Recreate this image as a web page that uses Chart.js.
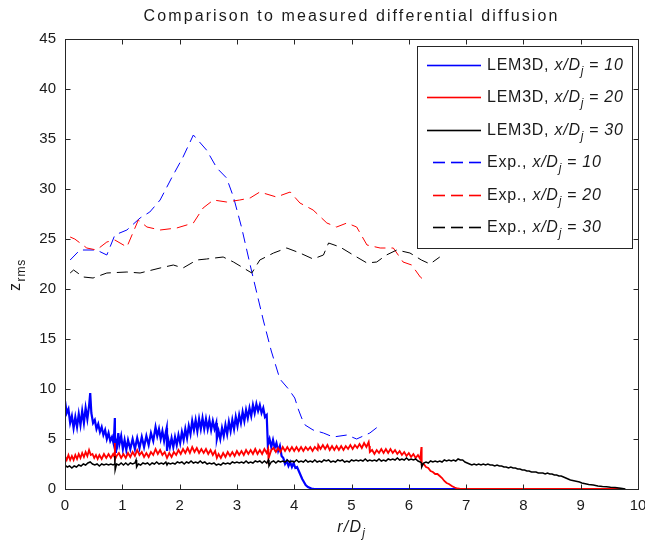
<!DOCTYPE html>
<html>
<head>
<meta charset="utf-8">
<script src="https://cdn.jsdelivr.net/npm/chart.js@4/dist/chart.umd.min.js"></script>
<style>
  html, body { margin: 0; padding: 0; background: #fff; }
  #wrap { width: 645px; height: 543px; }
</style>
</head>
<body>
<div id="wrap"><canvas id="c" width="645" height="543"></canvas></div>
<script>
// r/D_j versus z_rms, LEM3D profiles (noisy) and experimental profiles
const lem10 = [[0,8.8],[0.03,7.6],[0.06,8.0],[0.09,6.6],[0.12,7.3],[0.15,6.1],[0.18,7.2],[0.21,6.2],[0.24,7.5],[0.27,6.4],
  [0.30,7.8],[0.33,6.6],[0.36,8.1],[0.39,7.0],[0.42,8.3],[0.44,9.6],[0.46,7.6],[0.49,6.6],[0.52,6.9],[0.55,6.0],
  [0.58,6.5],[0.61,5.7],[0.64,6.2],[0.67,5.4],[0.70,5.9],[0.73,5.0],[0.76,5.6],[0.79,4.8],[0.82,5.2],[0.85,4.5],
  [0.87,7.1],[0.875,3.7],[0.89,4.8],[0.91,4.4],[0.93,5.6],[0.95,4.5],[0.98,5.3],[1.01,4.0],[1.04,4.9],[1.07,3.9],
  [1.10,4.9],[1.14,4.0],[1.18,5.0],[1.22,4.0],[1.26,5.1],[1.30,4.1],[1.34,5.2],[1.38,4.2],[1.42,5.3],[1.46,4.4],
  [1.50,5.6],[1.54,4.8],[1.58,6.2],[1.61,5.3],[1.64,6.0],[1.67,5.0],[1.70,5.8],[1.73,4.8],[1.76,5.7],[1.775,6.1],
  [1.78,3.8],[1.80,5.0],[1.83,4.2],[1.86,5.1],[1.89,4.2],[1.92,5.2],[1.95,4.4],[1.98,5.4],[2.01,4.6],[2.04,5.7],
  [2.07,4.9],[2.10,6.0],[2.13,5.1],[2.16,6.3],[2.19,5.5],[2.22,6.8],[2.25,5.9],[2.28,6.9],[2.31,5.8],[2.34,7.0],
  [2.37,6.0],[2.40,7.1],[2.43,6.0],[2.46,7.0],[2.49,6.0],[2.52,6.9],[2.55,5.9],[2.58,6.8],[2.61,6.0],[2.64,6.6],
  [2.65,5.0],[2.68,5.8],[2.71,5.0],[2.74,6.1],[2.77,5.3],[2.80,6.4],[2.83,5.5],[2.86,6.7],[2.89,5.8],[2.92,6.9],
  [2.95,6.0],[2.98,7.2],[3.01,6.3],[3.04,7.4],[3.07,6.6],[3.10,7.7],[3.13,6.8],[3.16,7.9],[3.19,7.1],[3.22,8.1],
  [3.25,7.3],[3.28,8.4],[3.31,7.6],[3.34,8.5],[3.37,7.8],[3.40,8.4],[3.43,7.6],[3.46,8.1],[3.49,7.2],[3.52,7.4],
  [3.54,4.4],[3.57,5.0],[3.60,4.2],[3.63,4.9],[3.66,4.1],[3.69,4.6],[3.72,3.8],[3.75,4.3],[3.78,3.3],[3.81,3.1],
  [3.84,2.5],[3.87,2.8],[3.90,2.3],[3.93,2.7],[3.96,2.2],[3.99,2.6],[4.02,2.1],[4.05,2.2],[4.08,1.8],[4.11,1.4],
  [4.14,1.0],[4.17,0.7],[4.20,0.4],[4.24,0.2],[4.30,0.05],[4.35,0],[9.75,0]];

const lem20 = [[0,3.3],[0.03,2.9],[0.06,3.4],[0.09,2.9],[0.12,3.3],[0.15,2.9],[0.18,3.4],[0.21,3.0],[0.24,3.5],[0.27,3.1],
  [0.30,3.6],[0.33,3.2],[0.36,3.7],[0.39,3.3],[0.42,3.9],[0.45,3.4],[0.48,3.5],[0.51,3.1],[0.54,3.4],[0.57,3.0],
  [0.60,3.4],[0.64,3.0],[0.68,3.5],[0.72,3.1],[0.76,3.5],[0.80,3.1],[0.84,3.5],[0.865,3.2],[0.87,4.6],[0.875,3.0],
  [0.90,3.3],[0.94,3.6],[0.98,3.1],[1.02,3.5],[1.06,3.1],[1.10,3.6],[1.14,3.2],[1.18,3.7],[1.22,3.3],[1.26,3.9],
  [1.30,3.4],[1.34,3.7],[1.38,3.2],[1.42,3.6],[1.46,3.2],[1.50,3.7],[1.54,3.4],[1.58,4.0],[1.62,3.5],[1.66,3.9],
  [1.70,3.4],[1.74,3.7],[1.78,3.1],[1.82,3.6],[1.86,3.2],[1.90,3.7],[1.94,3.4],[1.98,3.9],[2.02,3.5],[2.06,4.0],
  [2.10,3.6],[2.14,4.1],[2.18,3.6],[2.22,4.2],[2.26,3.7],[2.30,4.1],[2.34,3.6],[2.38,4.0],[2.42,3.6],[2.46,4.0],
  [2.50,3.5],[2.54,3.9],[2.58,3.4],[2.62,3.8],[2.65,3.1],[2.68,3.5],[2.72,3.1],[2.76,3.6],[2.80,3.2],[2.84,3.7],
  [2.88,3.3],[2.92,3.7],[2.96,3.3],[3.00,3.8],[3.04,3.4],[3.08,3.8],[3.12,3.4],[3.16,3.9],[3.20,3.5],[3.24,3.9],
  [3.28,3.5],[3.32,4.0],[3.36,3.5],[3.40,3.9],[3.44,3.5],[3.48,4.0],[3.52,3.6],[3.545,4.0],[3.55,3.0],[3.60,3.9],
  [3.64,4.1],[3.68,3.7],[3.72,4.1],[3.76,3.7],[3.80,4.2],[3.84,3.8],[3.88,4.2],[3.92,3.8],[3.96,4.2],[4.00,3.8],
  [4.04,4.2],[4.08,3.8],[4.12,4.2],[4.16,3.8],[4.20,4.2],[4.24,3.9],[4.28,4.2],[4.32,3.8],[4.36,4.2],[4.41,3.9],
  [4.42,4.4],[4.46,4.0],[4.50,4.4],[4.54,4.0],[4.58,4.4],[4.62,3.9],[4.66,4.3],[4.70,3.9],[4.74,4.3],[4.78,3.9],
  [4.82,4.3],[4.86,3.9],[4.90,4.3],[4.94,4.0],[4.98,4.4],[5.02,4.0],[5.06,4.4],[5.10,4.1],[5.14,4.5],[5.18,4.1],
  [5.22,4.6],[5.26,4.2],[5.30,4.7],[5.31,4.3],[5.32,3.7],[5.36,3.9],[5.40,3.5],[5.44,3.9],[5.48,3.6],[5.52,4.0],
  [5.56,3.6],[5.60,4.0],[5.64,3.6],[5.68,4.0],[5.72,3.6],[5.76,3.9],[5.80,3.5],[5.84,3.8],[5.88,3.4],[5.92,3.7],
  [5.96,3.3],[6.00,3.6],[6.04,3.2],[6.08,3.5],[6.12,3.1],[6.16,3.4],[6.20,3.0],[6.22,4.2],[6.225,2.5],[6.26,2.5],
  [6.30,2.2],[6.34,2.1],[6.38,1.8],[6.42,1.7],[6.46,1.5],[6.50,1.5],[6.54,1.3],[6.58,1.1],[6.62,0.8],[6.66,0.6],
  [6.70,0.5],[6.75,0.3],[6.80,0.15],[6.85,0.05],[6.90,0],[9.75,0]];

const lem30 = [[0,2.4],[0.04,2.2],[0.08,2.3],[0.12,2.1],[0.16,2.3],[0.20,2.2],[0.24,2.4],[0.28,2.3],[0.32,2.5],[0.36,2.4],
  [0.40,2.6],[0.44,2.7],[0.48,2.5],[0.52,2.4],[0.56,2.5],[0.60,2.3],[0.64,2.5],[0.68,2.4],[0.72,2.5],[0.76,2.4],
  [0.80,2.5],[0.84,2.4],[0.865,2.5],[0.87,3.3],[0.875,1.9],[0.90,2.5],[0.94,2.4],[0.98,2.6],[1.02,2.4],[1.06,2.6],
  [1.10,2.4],[1.14,2.6],[1.18,2.5],[1.22,2.6],[1.24,2.9],[1.25,2.2],[1.28,2.5],[1.32,2.4],[1.36,2.6],[1.40,2.5],
  [1.44,2.6],[1.48,2.4],[1.52,2.6],[1.56,2.5],[1.60,2.7],[1.64,2.5],[1.68,2.6],[1.72,2.5],[1.76,2.7],[1.78,2.4],
  [1.80,2.6],[1.84,2.5],[1.88,2.6],[1.92,2.5],[1.96,2.7],[2.00,2.6],[2.04,2.7],[2.08,2.5],[2.12,2.7],[2.16,2.6],
  [2.20,2.8],[2.24,2.6],[2.28,2.7],[2.32,2.6],[2.36,2.8],[2.40,2.6],[2.44,2.7],[2.48,2.5],[2.52,2.6],[2.56,2.5],
  [2.60,2.6],[2.64,2.4],[2.68,2.5],[2.72,2.4],[2.76,2.6],[2.80,2.5],[2.84,2.6],[2.88,2.5],[2.92,2.7],[2.96,2.6],
  [3.00,2.7],[3.04,2.6],[3.08,2.7],[3.12,2.6],[3.16,2.8],[3.20,2.6],[3.24,2.7],[3.28,2.6],[3.32,2.8],[3.36,2.7],
  [3.40,2.8],[3.44,2.6],[3.48,2.8],[3.52,2.6],[3.55,2.9],[3.56,2.3],[3.60,2.7],[3.64,2.8],[3.68,2.6],[3.72,2.8],
  [3.76,2.7],[3.80,2.8],[3.84,2.7],[3.88,2.9],[3.92,2.7],[3.96,2.8],[4.00,2.7],[4.04,2.9],[4.08,2.7],[4.12,2.8],
  [4.16,2.7],[4.20,2.9],[4.24,2.7],[4.28,2.8],[4.32,2.7],[4.36,2.9],[4.40,2.7],[4.44,2.8],[4.48,2.7],[4.52,2.9],
  [4.56,2.8],[4.60,2.9],[4.64,2.7],[4.68,2.8],[4.72,2.7],[4.76,2.9],[4.80,2.8],[4.84,2.9],[4.88,2.7],[4.92,2.8],
  [4.96,2.7],[5.00,2.9],[5.04,2.8],[5.08,2.9],[5.12,2.8],[5.16,2.9],[5.20,2.8],[5.24,3.0],[5.28,2.8],[5.32,2.9],
  [5.36,2.8],[5.40,2.9],[5.44,2.8],[5.48,3.0],[5.52,2.8],[5.56,2.9],[5.60,2.8],[5.64,3.0],[5.68,2.9],[5.72,3.0],
  [5.76,2.9],[5.80,3.1],[5.84,2.9],[5.88,3.0],[5.92,2.9],[5.96,3.1],[6.00,2.9],[6.04,3.0],[6.08,2.9],[6.12,3.0],
  [6.16,2.8],[6.20,2.7],[6.22,2.6],[6.225,2.2],[6.26,2.6],[6.30,2.7],[6.34,2.6],[6.38,2.8],[6.42,2.7],[6.46,2.8],
  [6.50,2.7],[6.54,2.8],[6.58,2.7],[6.62,2.9],[6.66,2.8],[6.70,2.9],[6.74,2.8],[6.78,2.9],[6.82,2.8],[6.86,3.0],
  [6.90,2.9],[6.94,2.9],[6.98,2.7],[7.02,2.6],[7.06,2.5],[7.10,2.4],[7.14,2.5],[7.18,2.4],[7.22,2.5],[7.26,2.4],
  [7.30,2.5],[7.34,2.4],[7.38,2.5],[7.42,2.4],[7.46,2.4],[7.50,2.3],[7.54,2.4],[7.58,2.3],[7.62,2.3],[7.66,2.2],
  [7.70,2.2],[7.74,2.1],[7.78,2.2],[7.82,2.1],[7.86,2.1],[7.90,2.0],[7.94,2.0],[7.98,1.9],[8.02,1.9],[8.06,1.8],
  [8.10,1.8],[8.14,1.7],[8.18,1.7],[8.22,1.7],[8.26,1.6],[8.30,1.6],[8.34,1.6],[8.38,1.5],[8.42,1.6],[8.46,1.5],
  [8.50,1.5],[8.54,1.4],[8.58,1.4],[8.62,1.3],[8.66,1.3],[8.70,1.2],[8.74,1.1],[8.78,1.0],[8.82,0.9],[8.86,0.85],
  [8.90,0.8],[8.94,0.75],[8.98,0.7],[9.02,0.6],[9.06,0.55],[9.10,0.5],[9.14,0.45],[9.22,0.4],[9.30,0.3],[9.38,0.25],
  [9.45,0.22],[9.52,0.18],[9.60,0.15],[9.70,0.08],[9.78,0]];

const exp10 = [[0.09,22.9],[0.26,23.9],[0.55,23.9],[0.73,23.4],[0.87,25.4],[1.08,25.9],[1.31,27.1],[1.48,27.7],
  [1.66,28.9],[1.86,31.1],[2.06,33.2],[2.24,35.4],[2.47,33.9],[2.65,32.1],[2.82,31.1],[2.94,29.2],[3.08,26.2],
  [3.26,21.7],[3.46,16.9],[3.60,13.8],[3.75,11.0],[3.90,10.0],[4.01,9.1],[4.07,8.0],[4.13,7.1],[4.19,6.4],
  [4.33,5.9],[4.51,5.6],[4.68,5.2],[4.92,5.4],[5.09,5.0],[5.32,5.6],[5.50,6.4]];

const exp20 = [[0.09,25.2],[0.17,25.0],[0.38,24.1],[0.55,23.9],[0.73,24.7],[0.87,24.9],[1.08,24.2],[1.28,26.9],
  [1.43,26.2],[1.66,25.9],[1.95,26.1],[2.24,26.6],[2.41,28.1],[2.59,28.9],[2.82,28.7],[3.05,28.9],[3.23,29.1],
  [3.40,29.7],[3.69,29.2],[3.93,29.7],[4.10,28.6],[4.33,27.9],[4.57,26.6],[4.74,26.2],[4.92,26.6],[5.09,26.2],
  [5.27,24.4],[5.50,24.1],[5.73,24.1],[5.90,22.7],[6.05,22.4],[6.20,21.2],[6.31,20.7]];

const exp30 = [[0.09,21.6],[0.15,21.9],[0.32,21.2],[0.49,21.1],[0.73,21.6],[1.08,21.7],[1.31,21.6],[1.66,22.1],
  [1.89,22.4],[2.06,22.1],[2.30,22.9],[2.47,23.0],[2.76,23.2],[2.94,22.7],[3.26,21.6],[3.40,22.9],[3.64,23.6],
  [3.87,24.1],[4.10,23.6],[4.33,23.0],[4.51,23.4],[4.60,24.6],[4.80,24.2],[5.03,23.4],[5.27,22.6],[5.44,22.7],
  [5.61,23.4],[5.79,23.9],[6.02,23.6],[6.22,22.9],[6.37,22.5],[6.54,23.2]];

const seriesLabels = [
  ['LEM3D, ', '10'], ['LEM3D, ', '20'], ['LEM3D, ', '30'],
  ['Exp., ', '10'], ['Exp., ', '20'], ['Exp., ', '30']
];
const seriesColors = ['#0000ff', '#ff0000', '#000000', '#0000ff', '#ff0000', '#000000'];
const seriesWidths = [2.2, 1.8, 1.5, 1, 1, 1];
const seriesData = [lem10, lem20, lem30, exp10, exp20, exp30];
const xTicks = [0, 1, 2, 3, 4, 5, 6, 7, 8, 9, 10];
const yTicks = [0, 5, 10, 15, 20, 25, 30, 35, 40, 45];

const DASH = [11, 6];
const FONT = '"Liberation Sans", Arial, Helvetica, sans-serif';
const INK = '#1a1a1a';

const datasets = seriesData.map((pts, i) => ({
  label: seriesLabels[i].join(''),
  data: pts.map(p => ({ x: p[0], y: p[1] })),
  borderColor: seriesColors[i],
  borderWidth: seriesWidths[i],
  borderDash: i >= 3 ? DASH : [],
  pointRadius: 0,
  tension: 0,
  fill: false,
  order: 6 - i   // later series drawn on top
}));

// Text helper: runs of text with optional italic / subscript
function setFont(ctx, r, size, spacing) {
  const s = r.sub ? Math.round(size * 0.72) : size;
  ctx.font = (r.it ? 'italic ' : '') + s + 'px ' + FONT;
  if ('letterSpacing' in ctx) ctx.letterSpacing = (r.sub ? spacing * 0.6 : spacing) + 'px';
}
function runsWidth(ctx, runs, size, spacing) {
  let w = 0;
  runs.forEach(r => { setFont(ctx, r, size, spacing); w += ctx.measureText(r.t).width; });
  return w;
}
function drawRuns(ctx, runs, x, y, size, spacing) {
  let cx = x;
  runs.forEach(r => {
    setFont(ctx, r, size, spacing);
    ctx.fillText(r.t, cx, y + (r.sub ? size * 0.32 : 0));
    cx += ctx.measureText(r.t).width;
  });
  if ('letterSpacing' in ctx) ctx.letterSpacing = '0px';
  return cx - x;
}

const decor = {
  id: 'decor',
  afterDraw(chart) {
    const ctx = chart.ctx;
    const a = chart.chartArea;
    const xs = chart.scales.x, ys = chart.scales.y;
    ctx.save();
    // axes box
    ctx.strokeStyle = '#262626';
    ctx.lineWidth = 1;
    ctx.setLineDash([]);
    const L = Math.round(a.left) + 0.5, R = Math.round(a.right) + 0.5;
    const T = Math.round(a.top) + 0.5, B = Math.round(a.bottom) + 0.5;
    ctx.strokeRect(L, T, R - L, B - T);
    // inward ticks on all four sides
    const tl = 5;
    ctx.beginPath();
    xTicks.forEach(v => {
      const px = Math.round(xs.getPixelForValue(v)) + 0.5;
      ctx.moveTo(px, B); ctx.lineTo(px, B - tl);
      ctx.moveTo(px, T); ctx.lineTo(px, T + tl);
    });
    yTicks.forEach(v => {
      const py = Math.round(ys.getPixelForValue(v)) + 0.5;
      ctx.moveTo(L, py); ctx.lineTo(L + tl, py);
      ctx.moveTo(R, py); ctx.lineTo(R - tl, py);
    });
    ctx.stroke();

    ctx.fillStyle = INK;
    ctx.textBaseline = 'alphabetic';
    ctx.textAlign = 'left';
    // title
    const titleRuns = [{ t: 'Comparison to measured differential diffusion' }];
    const tw = runsWidth(ctx, titleRuns, 16, 2.1);
    drawRuns(ctx, titleRuns, (a.left + a.right) / 2 - tw / 2, 21, 16, 2.1);
    // x label r/D_j
    const xl = [{ t: 'r/D', it: true }, { t: 'j', it: true, sub: true }];
    const xw = runsWidth(ctx, xl, 16, 1.2);
    drawRuns(ctx, xl, (a.left + a.right) / 2 - xw / 2, 532, 16, 1.2);
    // y label z_rms (rotated)
    ctx.save();
    ctx.translate(20, 291);
    ctx.rotate(-Math.PI / 2);
    drawRuns(ctx, [{ t: 'z' }, { t: 'rms', sub: true }], 0, 0, 16, 1.5);
    ctx.restore();

    // legend box
    const lx0 = 417.5, ly0 = 46.5, lw = 215, lh = 202;
    ctx.fillStyle = '#fff';
    ctx.fillRect(lx0, ly0, lw, lh);
    ctx.strokeStyle = '#262626';
    ctx.lineWidth = 1;
    ctx.strokeRect(lx0, ly0, lw, lh);
    // legend entries: line sample (solid, or three dashes) and label
    seriesLabels.forEach((lab, i) => {
      const cy = Math.round(65 + i * 32.4);
      ctx.fillStyle = seriesColors[i];
      if (i < 3) {
        ctx.fillRect(427, cy - 0.3, 54, 1.6);
      } else {
        [433, 451, 469].forEach(x0 => ctx.fillRect(x0, cy - 0.3, 12, 1.6));
      }
      ctx.fillStyle = INK;
      drawRuns(ctx, [
        { t: lab[0] }, { t: 'x/D', it: true }, { t: 'j', it: true, sub: true }, { t: ' = ' + lab[1], it: true }
      ], 487, cy + 5, 16, 0.75);
    });
    ctx.restore();
  }
};

new Chart(document.getElementById('c'), {
  type: 'line',
  data: { datasets },
  options: {
    responsive: false,
    animation: false,
    events: [],
    layout: { padding: { left: 0, right: 7, top: 39, bottom: 0 } },
    plugins: { legend: { display: false }, title: { display: false }, tooltip: { enabled: false } },
    scales: {
      x: {
        type: 'linear', min: 0, max: 10,
        grid: { display: false, drawTicks: false },
        border: { display: false },
        afterBuildTicks: s => { s.ticks = xTicks.map(v => ({ value: v })); },
        afterFit: s => { s.height = 54; s.paddingLeft = 0; s.paddingRight = 0; },
        ticks: { color: INK, padding: 8, maxRotation: 0, autoSkip: false, font: { family: FONT, size: 15 } }
      },
      y: {
        type: 'linear', min: 0, max: 45,
        grid: { display: false, drawTicks: false },
        border: { display: false },
        afterBuildTicks: s => { s.ticks = yTicks.map(v => ({ value: v })); },
        afterFit: s => { s.width = 65; s.paddingTop = 0; s.paddingBottom = 0; },
        ticks: { color: INK, padding: 9, autoSkip: false, font: { family: FONT, size: 15 } }
      }
    }
  },
  plugins: [decor]
});
</script>
</body>
</html>
